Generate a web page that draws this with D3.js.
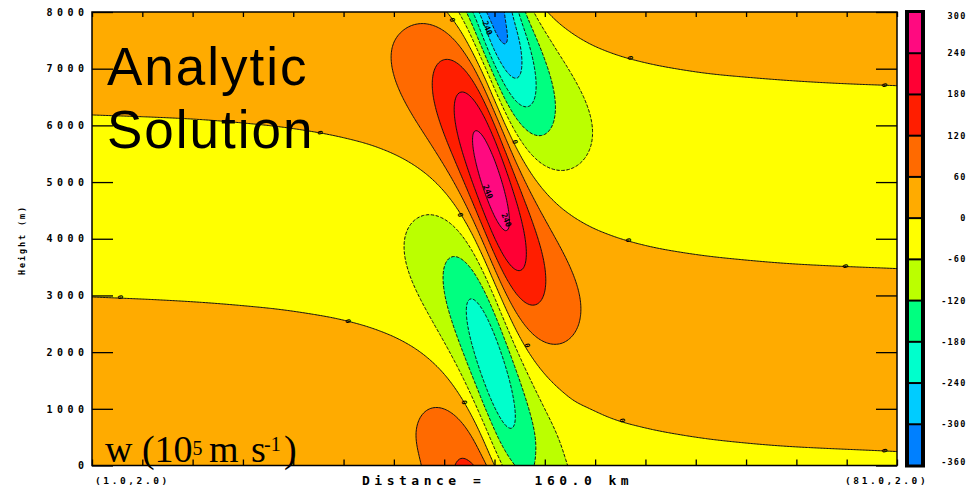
<!DOCTYPE html>
<html><head><meta charset="utf-8">
<script src="https://cdn.jsdelivr.net/npm/d3@7/dist/d3.min.js"></script>
<style>
html,body{margin:0;padding:0;background:#fff;}
svg{display:block;}
.tick text{font-family:"DejaVu Sans Mono",monospace;font-weight:bold;font-size:10px;letter-spacing:4.5px;fill:#000;}
.mono{font-family:"DejaVu Sans Mono",monospace;font-weight:bold;fill:#000;white-space:pre;}
</style></head>
<body>
<svg id="chart" width="967" height="488"></svg>
<script>
// ---------------- data ----------------
// horizontal sample positions (km along the 160 km section)
const distanceKm = [0, 16, 32, 44, 52, 58, 62, 65, 68, 70, 72, 74, 76, 78, 80, 82, 84, 86, 88, 90, 92, 95, 98, 102, 108, 116, 128, 144, 160];
// vertical sample positions (m)
const heightM = [0, 500, 1000, 1500, 2000, 2500, 3000, 3500, 4000, 4500, 5000, 5500, 6000, 6500, 7000, 7500, 8000];
// w values at each height, one array per level (same order as distanceKm)
const w_z0000 = [0.8, 1.5, 3.3, 7.4, 14.3, 25.8, 40.0, 56.8, 80.6, 100.0, 119.0, 129.8, 118.9, 74.0, 0.0, -74.0, -118.9, -129.8, -119.0, -100.0, -80.6, -56.8, -40.0, -25.8, -14.3, -7.4, -3.3, -1.5, -0.8];
const w_z0500 = [2.1, 3.5, 6.7, 12.7, 21.5, 34.4, 48.5, 63.2, 80.6, 91.2, 95.5, 84.8, 48.0, -18.4, -96.7, -153.2, -168.7, -151.7, -121.4, -91.2, -66.4, -40.4, -24.5, -12.6, -4.6, -0.8, 0.7, 0.9, 0.8];
const w_z1000 = [3.1, 4.9, 8.7, 15.2, 24.0, 35.3, 45.9, 54.8, 61.2, 59.7, 47.5, 16.6, -39.0, -112.2, -176.2, -200.6, -181.0, -138.5, -94.7, -59.7, -35.1, -12.1, -2.0, 4.4, 6.9, 6.4, 4.7, 3.1, 2.2];
const w_z1500 = [3.4, 5.1, 8.7, 14.3, 20.8, 27.7, 32.0, 32.6, 25.7, 11.9, -15.1, -60.2, -122.2, -185.1, -218.4, -202.6, -150.5, -91.0, -43.4, -11.9, 6.6, 19.1, 22.5, 21.5, 17.4, 12.5, 7.9, 4.8, 3.2];
const w_z2000 = [2.8, 4.2, 6.6, 9.8, 12.4, 12.9, 9.4, 1.1, -18.3, -41.9, -78.1, -127.3, -181.3, -217.9, -210.5, -155.9, -81.6, -18.4, 21.7, 41.9, 49.4, 48.7, 43.0, 34.5, 24.4, 16.0, 9.4, 5.4, 3.5];
const w_z2500 = [1.6, 2.1, 2.8, 2.7, 0.5, -6.0, -16.8, -32.7, -60.7, -89.1, -126.3, -168.0, -200.4, -200.3, -151.4, -68.4, 11.5, 63.3, 85.8, 89.1, 83.0, 68.5, 54.5, 40.0, 26.0, 15.9, 8.7, 4.7, 2.9];
const w_z3000 = [-0.1, -0.5, -1.9, -5.5, -12.4, -24.6, -40.7, -60.8, -91.1, -117.8, -147.1, -170.8, -172.4, -133.1, -51.8, 41.1, 107.7, 134.9, 133.2, 117.8, 98.8, 73.0, 53.6, 36.2, 21.4, 11.9, 5.9, 2.9, 1.7];
const w_z3500 = [-1.9, -3.3, -6.5, -12.9, -23.0, -38.4, -56.3, -76.0, -101.6, -119.9, -133.8, -132.5, -101.0, -29.6, 66.6, 147.8, 184.2, 178.6, 151.6, 119.9, 91.8, 60.2, 39.7, 23.4, 11.4, 4.8, 1.4, 0.2, -0.1];
const w_z4000 = [-3.3, -5.4, -9.8, -17.7, -28.8, -43.9, -59.3, -73.8, -88.2, -93.2, -87.3, -59.9, -0.6, 87.8, 176.6, 225.7, 221.1, 182.1, 134.5, 93.2, 62.1, 32.1, 15.3, 4.2, -2.1, -4.0, -3.6, -2.7, -1.9];
const w_z4500 = [-4.1, -6.3, -11.0, -18.5, -28.0, -39.2, -48.2, -53.7, -52.7, -42.3, -16.7, 32.0, 106.5, 191.6, 251.1, 254.2, 207.1, 141.8, 83.9, 42.3, 15.5, -5.7, -14.4, -17.4, -15.9, -12.3, -8.2, -5.1, -3.4];
const w_z5000 = [-3.9, -5.8, -9.6, -14.9, -20.4, -24.7, -24.8, -19.3, -2.1, 22.1, 62.4, 122.1, 194.7, 255.8, 269.8, 223.1, 142.1, 64.6, 9.8, -22.1, -37.8, -44.5, -42.5, -36.1, -26.8, -18.2, -11.0, -6.4, -4.2];
const w_z5500 = [-2.7, -3.9, -5.7, -7.5, -7.4, -3.3, 6.2, 21.9, 52.2, 85.4, 131.6, 188.4, 241.6, 262.4, 224.5, 136.2, 38.7, -33.1, -71.5, -85.4, -85.4, -75.0, -62.1, -47.3, -31.9, -20.1, -11.4, -6.3, -4.0];
const w_z6000 = [-0.8, -0.9, -0.3, 2.3, 8.3, 20.3, 37.7, 60.6, 97.4, 132.1, 173.5, 213.6, 233.3, 206.1, 122.2, 10.8, -80.8, -129.1, -140.8, -132.1, -115.5, -89.5, -68.1, -47.8, -29.6, -17.3, -9.0, -4.7, -2.8];
const w_z6500 = [1.4, 2.6, 5.6, 12.1, 22.9, 40.5, 62.0, 87.1, 122.0, 149.9, 176.2, 188.9, 168.0, 96.4, -16.3, -125.3, -188.4, -200.1, -180.5, -149.9, -119.6, -83.2, -58.0, -36.8, -20.1, -10.1, -4.4, -1.8, -0.9];
const w_z7000 = [3.4, 5.6, 10.5, 19.6, 33.0, 52.2, 73.0, 94.3, 118.8, 132.7, 136.5, 116.9, 58.1, -43.6, -159.7, -239.9, -257.5, -227.5, -179.3, -132.7, -95.2, -56.5, -33.2, -16.3, -5.1, 0.0, 1.7, 1.7, 1.4];
const w_z7500 = [4.7, 7.4, 13.2, 22.9, 35.8, 52.1, 67.1, 79.2, 86.6, 82.3, 61.3, 12.1, -73.1, -182.2, -273.9, -304.0, -268.9, -201.6, -134.6, -82.3, -46.1, -14.4, 1.2, 9.6, 12.2, 10.7, 7.7, 5.0, 3.5];
const w_z8000 = [5.0, 7.6, 12.8, 20.9, 30.1, 39.4, 44.6, 44.0, 31.5, 8.9, -33.5, -102.4, -195.0, -285.7, -329.3, -298.8, -216.1, -125.5, -54.6, -8.9, 17.2, 33.9, 37.5, 34.8, 27.5, 20.9, 12.8, 7.6, 5.0];
const wRows = [w_z0000, w_z0500, w_z1000, w_z1500, w_z2000, w_z2500, w_z3000, w_z3500, w_z4000, w_z4500, w_z5000, w_z5500, w_z6000, w_z6500, w_z7000, w_z7500, w_z8000];

// contour levels and band colours (lowest band first)
const levels = [-360, -300, -240, -180, -120, -60, 0, 60, 120, 180, 240, 300];
const bandColors = ["#0080ff", "#00ccff", "#00ffcc", "#00ff80", "#bbff00", "#ffff00", "#ffab00", "#ff6a00", "#ff1e00", "#ff0034", "#ff0a80"];
const heightTicks = [0, 1000, 2000, 3000, 4000, 5000, 6000, 7000, 8000];
const distanceTicks = [0, 10, 20, 30, 40, 50, 60, 70, 80, 90, 100, 110, 120, 130, 140, 150, 160];
const endLabels = ["(1.0,2.0)", "(81.0,2.0)"];
const axisTitle = "Distance =    160.0 km";
// contour labels placed on the picture: [km, m, text]
const zeroLabels = [[71.6, 7860, "0"], [107.0, 7190, "0"], [157.5, 6710, "0"], [45.3, 5870, "0"], [84.1, 5710, "0"], [73.2, 4420, "0"], [106.6, 3975, "0"], [149.7, 3515, "0"], [5.6, 2968, "0"], [50.9, 2545, "0"], [86.5, 2120, "0"], [74.0, 1113, "0"], [105.4, 795, "0"], [157.5, 262, "0"]];
const cellLabels = [[78.6, 7720, "240"], [78.7, 4830, "240"], [82.4, 4330, "240"]];

// ---------------- helpers ----------------
function naturalSpline(xs, ys) {
  const n = xs.length, h = [];
  for (let i = 0; i < n - 1; i++) h[i] = xs[i + 1] - xs[i];
  const l = new Array(n).fill(1), mu = new Array(n).fill(0), zz = new Array(n).fill(0);
  for (let i = 1; i < n - 1; i++) {
    const a = 3 / h[i] * (ys[i + 1] - ys[i]) - 3 / h[i - 1] * (ys[i] - ys[i - 1]);
    l[i] = 2 * (xs[i + 1] - xs[i - 1]) - h[i - 1] * mu[i - 1];
    mu[i] = h[i] / l[i];
    zz[i] = (a - h[i - 1] * zz[i - 1]) / l[i];
  }
  const c = new Array(n).fill(0), b = [], d = [];
  for (let j = n - 2; j >= 0; j--) {
    c[j] = zz[j] - mu[j] * c[j + 1];
    b[j] = (ys[j + 1] - ys[j]) / h[j] - h[j] * (c[j + 1] + 2 * c[j]) / 3;
    d[j] = (c[j + 1] - c[j]) / (3 * h[j]);
  }
  return function (x) {
    let j = d3.bisectRight(xs, x) - 1;
    j = Math.max(0, Math.min(n - 2, j));
    const t = x - xs[j];
    return ys[j] + b[j] * t + c[j] * t * t + d[j] * t * t * t;
  };
}

// ---------------- scales ----------------
const X0 = 92, X1 = 897, Y0 = 12, Y1 = 465.5;
const xScale = d3.scaleLinear().domain([0, 160]).range([X0, X1]);
const yScale = d3.scaleLinear().domain([0, 8000]).range([Y1, Y0]);
const cbScale = d3.scaleLinear().domain([levels[0], levels[levels.length - 1]]).range([465.5, 12]);

// smooth field on a fine grid
const nx = 540, ny = 304;
const dkm = 160 / (nx - 1), dz = 8000 / (ny - 1);
const rowFine = wRows.map(r => { const f = naturalSpline(distanceKm, r); return d3.range(nx).map(i => f(i * dkm)); });
const values = new Array(nx * ny);
for (let i = 0; i < nx; i++) {
  const f = naturalSpline(heightM, rowFine.map(r => r[i]));
  for (let j = 0; j < ny; j++) values[j * nx + i] = f(8000 - j * dz);
}
const thresholds = levels.slice(1, -1);
const contours = d3.contours().size([nx, ny]).thresholds(thresholds)(values);
const proj = d3.geoTransform({
  point(x, y) { this.stream.point(xScale((x - 0.5) * dkm), yScale(8000 - (y - 0.5) * dz)); }
});
const path = d3.geoPath(proj);

// ---------------- drawing ----------------
const svg = d3.select("#chart");
svg.append("rect").attr("width", 967).attr("height", 488).attr("fill", "#fff");
svg.append("defs").append("clipPath").attr("id", "plotClip")
  .append("rect").attr("x", X0).attr("y", Y0).attr("width", X1 - X0).attr("height", Y1 - Y0);

const gPlot = svg.append("g").attr("clip-path", "url(#plotClip)");
gPlot.append("rect").attr("x", X0).attr("y", Y0).attr("width", X1 - X0).attr("height", Y1 - Y0).attr("fill", bandColors[0]);
gPlot.selectAll("path.band").data(contours).join("path").attr("class", "band")
  .attr("d", path).attr("fill", (d, k) => bandColors[k + 1]).attr("stroke", "none");
gPlot.selectAll("path.iso").data(contours).join("path").attr("class", "iso")
  .attr("d", path).attr("fill", "none").attr("stroke", "#111").attr("stroke-width", 1)
  .attr("stroke-dasharray", d => d.value < 0 ? "3.5,1.5" : null);

// contour labels
gPlot.selectAll("text.zl").data(zeroLabels).join("text").attr("class", "mono zl")
  .attr("transform", d => `translate(${xScale(d[0])},${yScale(d[1])}) rotate(80)`)
  .attr("text-anchor", "middle").attr("dy", "0.35em").attr("font-size", 7).text(d => d[2]);
gPlot.selectAll("text.cl").data(cellLabels).join("text").attr("class", "mono cl")
  .attr("transform", d => `translate(${xScale(d[0])},${yScale(d[1])}) rotate(68)`)
  .attr("text-anchor", "middle").attr("dy", "0.35em").attr("font-size", 8).text(d => d[2]);

// big annotations
svg.append("text").attr("x", 107).attr("y", 85).attr("font-family", "Liberation Sans, Arial, sans-serif")
  .attr("font-size", 53).attr("letter-spacing", "2px").attr("fill", "#000").text("Analytic");
svg.append("text").attr("x", 107).attr("y", 148).attr("font-family", "Liberation Sans, Arial, sans-serif")
  .attr("font-size", 53).attr("letter-spacing", "2px").attr("fill", "#000").text("Solution");
const wt = svg.append("text").attr("x", 105).attr("y", 462).attr("font-family", "Liberation Serif, Times New Roman, serif")
  .attr("font-size", 38).attr("fill", "#000");
wt.append("tspan").text("w (10");
wt.append("tspan").attr("font-size", 20).attr("dy", -7).text("5");
wt.append("tspan").attr("x", 209).attr("dy", 7).text("m");
wt.append("tspan").attr("x", 251).text("s");
wt.append("tspan").attr("x", 264).attr("font-size", 20).attr("dy", -11).text("-1");
wt.append("tspan").attr("x", 284).attr("dy", 11).text(")");

// axes
const axL = svg.append("g").attr("transform", `translate(${X0},0)`)
  .call(d3.axisLeft(yScale).tickValues(heightTicks).tickFormat(d3.format("d")).tickSizeInner(-21).tickSizeOuter(0).tickPadding(3.5));
const axR = svg.append("g").attr("transform", `translate(${X1},0)`)
  .call(d3.axisRight(yScale).tickValues(heightTicks).tickFormat("").tickSizeInner(-21).tickSizeOuter(0));
const axT = svg.append("g").attr("transform", `translate(0,${Y0})`)
  .call(d3.axisTop(xScale).tickValues(distanceTicks).tickFormat("").tickSizeInner(-5).tickSizeOuter(0));
const axB = svg.append("g").attr("transform", `translate(0,${Y1})`)
  .call(d3.axisBottom(xScale).tickValues(distanceTicks).tickFormat("").tickSizeInner(-6).tickSizeOuter(0));
[axL, axR, axT, axB].forEach(a => { a.select(".domain").remove(); a.selectAll(".tick line").attr("stroke", "#000").attr("stroke-width", 1.3); });
svg.append("rect").attr("x", X0).attr("y", Y0).attr("width", X1 - X0).attr("height", Y1 - Y0)
  .attr("fill", "none").attr("stroke", "#000").attr("stroke-width", 1.5);

// axis texts
svg.append("text").attr("class", "mono").attr("font-size", 8.5).attr("letter-spacing", "1.9px")
  .attr("text-anchor", "middle").attr("transform", "translate(25,240) rotate(-90)").text("Height (m)");
svg.append("text").attr("class", "mono").attr("font-size", 9.5).attr("letter-spacing", "2.6px")
  .attr("x", xScale(0) + 3).attr("y", 484).text(endLabels[0]);
svg.append("text").attr("class", "mono").attr("font-size", 9.5).attr("letter-spacing", "2.6px")
  .attr("x", xScale(160) - 52).attr("y", 484).text(endLabels[1]);
svg.append("text").attr("class", "mono").attr("font-size", 13).attr("letter-spacing", "4.5px")
  .attr("x", 362).attr("y", 485).attr("xml:space", "preserve").text(axisTitle);

// colour bar
const cb = svg.append("g");
cb.append("rect").attr("x", 905).attr("y", cbScale(levels[levels.length - 1]) - 2).attr("width", 20)
  .attr("height", cbScale(levels[0]) - cbScale(levels[levels.length - 1]) + 4).attr("fill", "#000");
cb.selectAll("rect.cell").data(bandColors).join("rect").attr("class", "cell")
  .attr("x", 909).attr("width", 12)
  .attr("y", (c, k) => cbScale(levels[k + 1]) + 1)
  .attr("height", (c, k) => cbScale(levels[k]) - cbScale(levels[k + 1]) - 2)
  .attr("fill", c => c);
cb.selectAll("text").data(levels).join("text").attr("class", "mono")
  .attr("font-size", 8.5).attr("letter-spacing", "1.2px").attr("text-anchor", "end")
  .attr("x", 966.5).attr("y", d => Math.min(Math.max(cbScale(d), 16), 462)).attr("dy", "0.35em").text(d => d);
</script>
</body></html>
